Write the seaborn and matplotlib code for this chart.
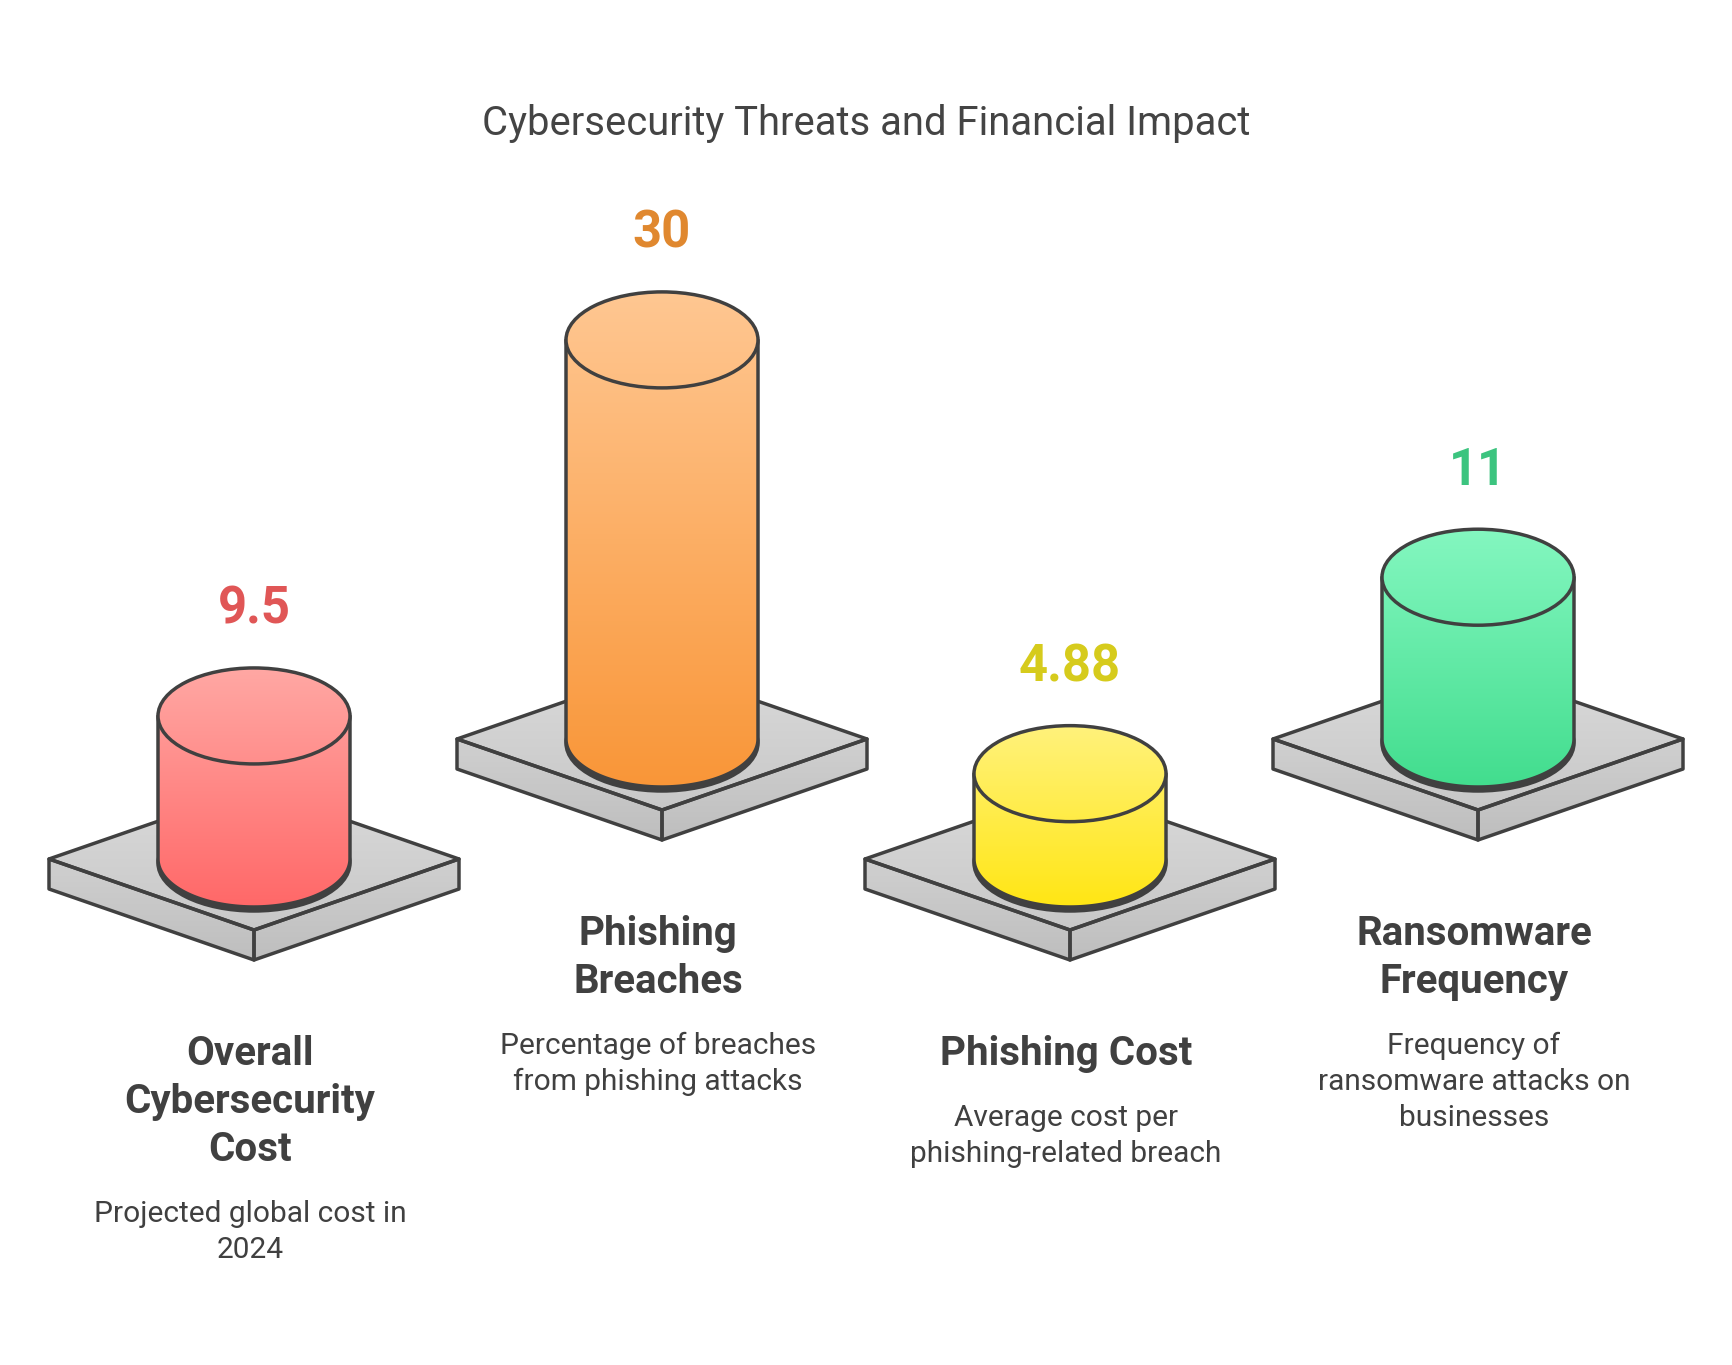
import numpy as np
import matplotlib
matplotlib.use("Agg")
import matplotlib.pyplot as plt
from matplotlib.patches import Polygon, Ellipse
import seaborn as sns

# chart data
categories = ["Overall\nCybersecurity\nCost", "Phishing\nBreaches", "Phishing Cost", "Ransomware\nFrequency"]
values = [9.5, 30, 4.88, 11]
value_labels = ["9.5", "30", "4.88", "11"]
descriptions = [
    "Projected global cost in\n2024",
    "Percentage of breaches\nfrom phishing attacks",
    "Average cost per\nphishing-related breach",
    "Frequency of\nransomware attacks on\nbusinesses",
]
label_colors = ["#e05656", "#e0882f", "#d6cb1c", "#3cc47f"]
top_colors = ["#ffa8a4", "#ffc792", "#fff27c", "#84f7c0"]
bottom_colors = ["#ff6868", "#f99638", "#ffe614", "#42dd8e"]

sns.set_theme(style="white")
plt.rcParams["font.family"] = ["Roboto", "DejaVu Sans"]

W_PX, H_PX = 1732, 1365
PX = 12.49          # pixels per value unit (vertical)
XPX = 408.0         # pixels per category step
EDGE = "#404040"
TXT = "#404040"

# geometry in data units
rx = 96 / XPX
ry = 48 / PX
pw = 205 / XPX
ph = 71 / PX
pt = 30 / PX
base = 24.4 / PX
upper = 120 / PX
tshift = -4 / XPX   # text sits a touch left of the cylinder axis

fig = plt.figure(figsize=(W_PX / 100, H_PX / 100), dpi=100)
ax = fig.add_axes([0, 0, 1, 1])
ax.set_axis_off()


def px(v):
    return v / PX


def gradient_fill(patch, c_top, c_bot, x0, x1, y0, y1, z):
    cmap = sns.blend_palette([c_bot, c_top], as_cmap=True)
    grad = np.linspace(0, 1, 256).reshape(-1, 1)
    im = ax.imshow(grad, extent=[x0, x1, y0, y1], origin="lower", aspect="auto",
                   cmap=cmap, zorder=z, interpolation="bilinear")
    patch.set_facecolor("none")
    patch.set_edgecolor("none")
    patch.set_zorder(z)
    ax.add_patch(patch)
    im.set_clip_path(patch)


for i, (cat, val, vlab, desc) in enumerate(zip(categories, values, value_labels, descriptions)):
    cx = i
    lvl = upper if i % 2 else 0.0
    z = 10 * i

    # platform
    top_face = [(cx - pw, lvl), (cx, lvl - ph), (cx + pw, lvl), (cx, lvl + ph)]
    left_face = [(cx - pw, lvl), (cx, lvl - ph), (cx, lvl - ph - pt), (cx - pw, lvl - pt)]
    right_face = [(cx, lvl - ph), (cx + pw, lvl), (cx + pw, lvl - pt), (cx, lvl - ph - pt)]
    for face, (ct, cb) in zip([top_face, left_face, right_face],
                              [("#dadada", "#c8c8c8"), ("#d0d0d0", "#bebebe"), ("#d0d0d0", "#bebebe")]):
        ys = [p[1] for p in face]
        gradient_fill(Polygon(face, closed=True), ct, cb, cx - pw, cx + pw, min(ys), max(ys), z + 1)
        ax.add_patch(Polygon(face, closed=True, fill=False, edgecolor=EDGE, lw=2.5,
                             joinstyle="round", zorder=z + 2))

    # cylinder
    ybot = lvl
    ytop = lvl + base + val
    ax.add_patch(Ellipse((cx, ybot - px(4)), 2 * rx, 2 * ry, facecolor=EDGE, edgecolor=EDGE,
                         lw=2.5, zorder=z + 3))
    th = np.linspace(np.pi, 2 * np.pi, 120)
    arc = np.column_stack([cx + rx * np.cos(th), ybot + ry * np.sin(th)])
    body = np.vstack([[cx - rx, ytop], arc, [cx + rx, ytop]])
    gradient_fill(Polygon(body, closed=True), top_colors[i], bottom_colors[i],
                  cx - rx, cx + rx, ybot - ry, ytop + ry, z + 4)
    ax.plot(body[:, 0], body[:, 1], color=EDGE, lw=2.5, zorder=z + 5, solid_capstyle="round")
    gradient_fill(Ellipse((cx, ytop), 2 * rx, 2 * ry), top_colors[i], bottom_colors[i],
                  cx - rx, cx + rx, ybot - ry, ytop + ry, z + 6)
    ax.add_patch(Ellipse((cx, ytop), 2 * rx, 2 * ry, fill=False, edgecolor=EDGE, lw=2.5, zorder=z + 7))

    # value label
    ax.text(cx, ytop + ry + px(44), vlab, ha="center", va="baseline", fontsize=36.5,
            fontweight="bold", color=label_colors[i], zorder=100)

    # category name and description
    yb = lvl - ph - pt - px(105)
    cat_lines = cat.split("\n")
    for k, line in enumerate(cat_lines):
        ax.text(cx + tshift, yb - k * px(48), line, ha="center", va="baseline", fontsize=29,
                fontweight="bold", color=TXT, zorder=100)
    yd = yb - (len(cat_lines) - 1) * px(48) - px(61)
    for k, line in enumerate(desc.split("\n")):
        ax.text(cx + tshift, yd - k * px(36), line, ha="center", va="baseline", fontsize=21.5,
                color=TXT, zorder=100)

fig.text(0.5, 1 - 135 / H_PX, "Cybersecurity Threats and Financial Impact", ha="center",
         va="baseline", fontsize=28.8, color="#444444")

x_left = -254 / XPX
ax.set_xlim(x_left, x_left + W_PX / XPX)
ax.set_ylim(-(H_PX - 859) / PX, 859 / PX)

fig.savefig("out.png", dpi=100, facecolor="white")
